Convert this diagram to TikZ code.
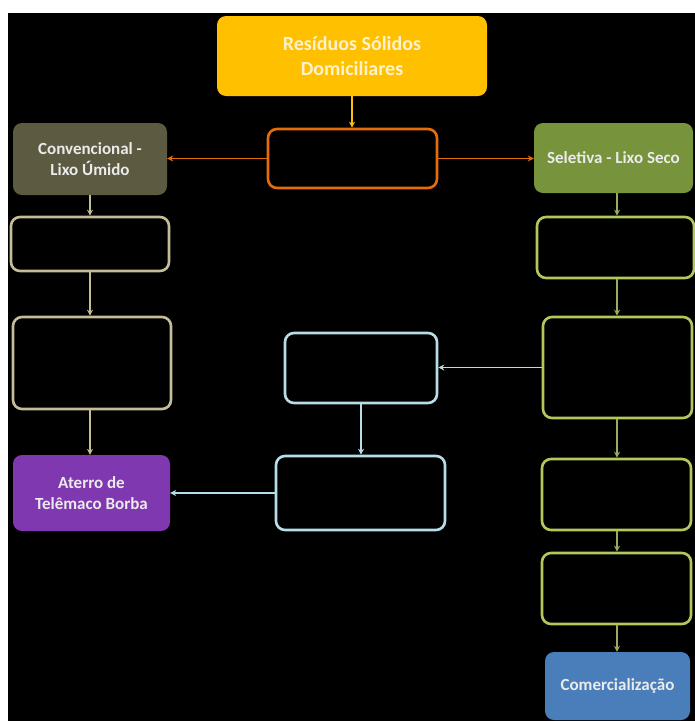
\documentclass[tikz,border=0pt]{standalone}
\usepackage{fontspec}
\setmainfont{Carlito}
\usepackage{tikz}
\usetikzlibrary{arrows.meta}
\usepackage{xcolor}

\definecolor{gold}{HTML}{FFC000}
\definecolor{goldtext}{HTML}{FFF2CC}
\definecolor{olive}{HTML}{5C5A41}
\definecolor{leaf}{HTML}{77933C}
\definecolor{grape}{HTML}{8038B0}
\definecolor{steel}{HTML}{4A7EBB}
\definecolor{rust}{HTML}{E46C0A}
\definecolor{khaki}{HTML}{C4BD97}
\definecolor{lime}{HTML}{B2C85A}
\definecolor{limearr}{HTML}{9AAA5E}
\definecolor{sky}{HTML}{B7DEE8}

\tikzset{
  box/.style={rectangle, rounded corners=9pt, inner sep=0pt, align=center,
    font=\fontsize{17}{21}\selectfont\bfseries, text=white!92!black},
  filled/.style={box, fill=#1},
  empty/.style={box, draw=#1, line width=2.6pt},
  arr/.style={-{Stealth[length=6pt,width=6pt]}, line width=1.3pt, draw=#1}
}

\begin{document}
\begin{tikzpicture}[x=1pt,y=-1pt]
  \useasboundingbox (0,0) rectangle (695,721);
  \fill[white] (0,0) rectangle (695,721);
  \fill[black] (8,13) rectangle (695,721);

  % top
  \node[filled=gold, minimum width=270pt, minimum height=80pt,
    font=\fontsize{20}{25}\selectfont\bfseries, text=goldtext] (res) at (352,56)
    {Resíduos Sólidos\\Domiciliares};
  \node[empty=rust, minimum width=169pt, minimum height=59pt] (tri) at (352.5,158.5) {};

  % left: convencional
  \node[filled=olive, minimum width=154pt, minimum height=72pt] (conv) at (90,159)
    {Convencional -\\Lixo Úmido};
  \node[empty=khaki, minimum width=158pt, minimum height=54pt] (l1) at (90,244) {};
  \node[empty=khaki, minimum width=158pt, minimum height=92pt] (l2) at (92,363) {};
  \node[filled=grape, minimum width=157pt, minimum height=76pt] (aterro) at (91.5,493)
    {Aterro de\\Telêmaco Borba};

  % right: seletiva
  \node[filled=leaf, minimum width=159pt, minimum height=70pt] (sel) at (613.5,158)
    {Seletiva - Lixo Seco};
  \node[empty=lime, minimum width=157pt, minimum height=61pt] (r1) at (615.5,247.5) {};
  \node[empty=lime, minimum width=149pt, minimum height=101pt] (r2) at (617.5,367.5) {};
  \node[empty=lime, minimum width=149pt, minimum height=71pt] (r3) at (616.5,494.5) {};
  \node[empty=lime, minimum width=149pt, minimum height=71pt] (r4) at (616.5,588.5) {};
  \node[filled=steel, minimum width=145pt, minimum height=68pt] (com) at (617.5,686)
    {Comercialização};

  % middle: rejeitos
  \node[empty=sky, minimum width=152pt, minimum height=70pt] (c1) at (361,368) {};
  \node[empty=sky, minimum width=169pt, minimum height=74pt] (c2) at (360.5,493) {};

  % arrows
  \draw[arr=gold] (res.south) -- (res.south |- tri.north);
  \draw[arr=rust] (tri.west) -- (tri.west -| conv.east);
  \draw[arr=rust] (tri.east) -- (tri.east -| sel.west);

  \draw[arr=khaki] (conv.south) -- (conv.south |- l1.north);
  \draw[arr=khaki] (l1.south) -- (l1.south |- l2.north);
  \draw[arr=khaki] (l2.south -| l1.south) -- (l1.south |- aterro.north);

  \draw[arr=limearr] (617,193) coordinate (s0) -- (s0 |- r1.north);
  \draw[arr=limearr] (r1.south -| s0) -- (s0 |- r2.north);
  \draw[arr=limearr] (r2.south -| s0) -- (s0 |- r3.north);
  \draw[arr=limearr] (r3.south -| s0) -- (s0 |- r4.north);
  \draw[arr=limearr] (r4.south -| s0) -- (s0 |- com.north);

  \draw[arr=sky] (r2.west) -- (r2.west -| c1.east);
  \draw[arr=sky] (c1.south) -- (c1.south |- c2.north);
  \draw[arr=sky] (c2.west) -- (c2.west -| aterro.east);
\end{tikzpicture}
\end{document}
